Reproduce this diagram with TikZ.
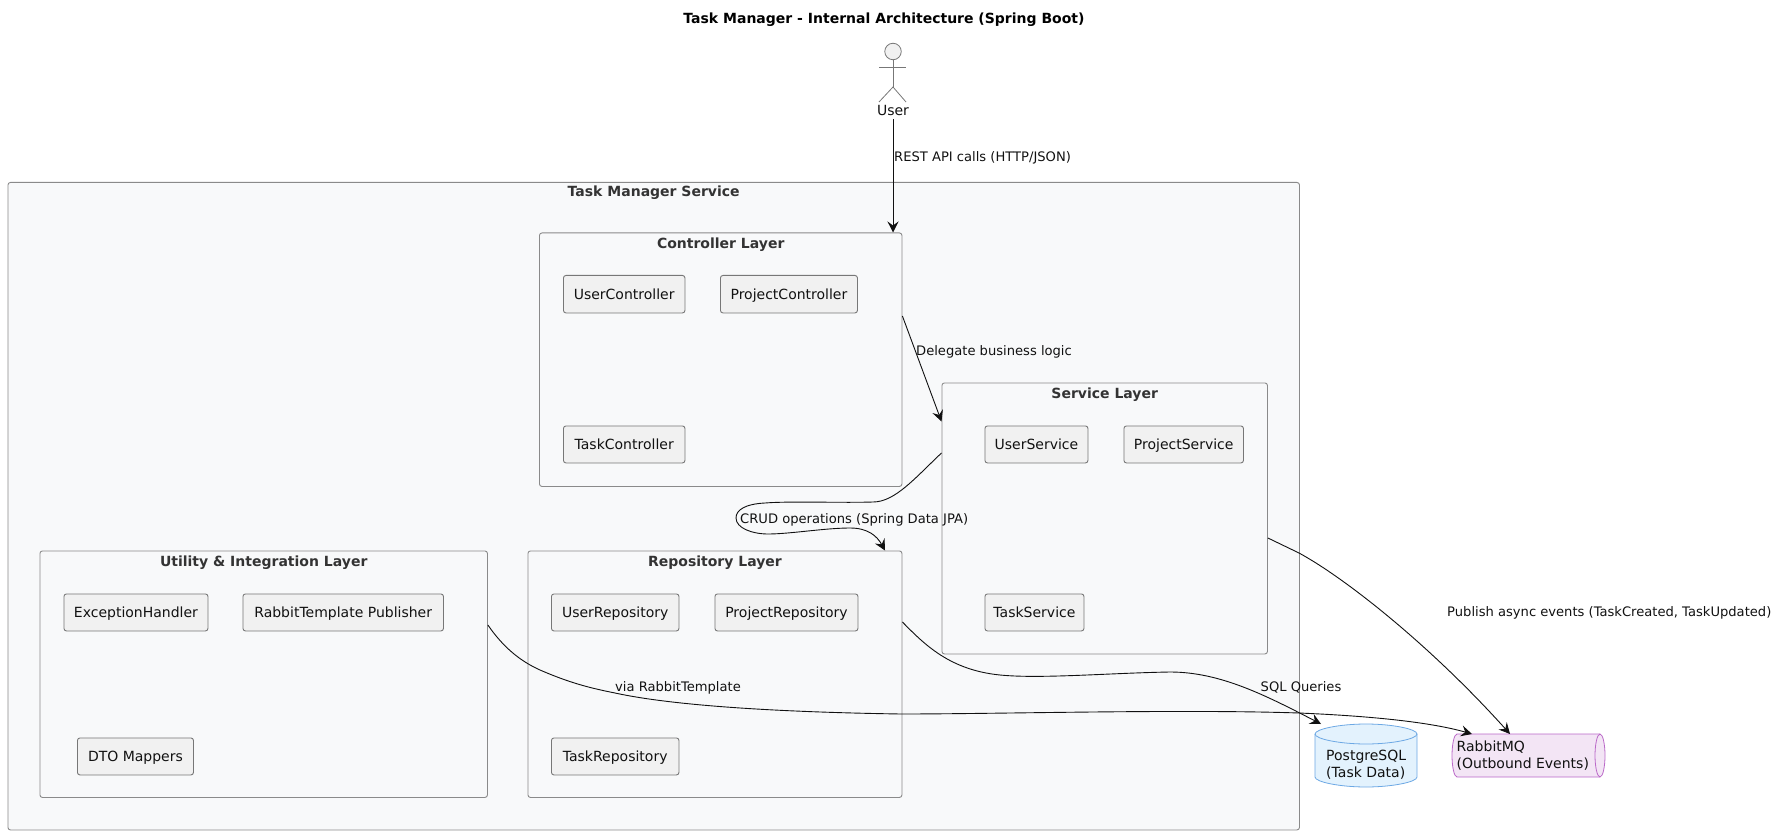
\documentclass[tikz,border=0pt]{standalone}
\usepackage{fontspec}
\setmainfont{DejaVu Sans}
\usetikzlibrary{arrows.meta}
\definecolor{clfill}{HTML}{F8F9FA}
\definecolor{clline}{HTML}{8A8A8A}
\definecolor{leaffill}{HTML}{F1F1F1}
\definecolor{leafline}{HTML}{777777}
\definecolor{txt}{HTML}{111111}
\definecolor{cltxt}{HTML}{333333}
\definecolor{dbfill}{HTML}{E3F2FD}
\definecolor{dbline}{HTML}{6CA8E4}
\definecolor{qfill}{HTML}{F3E5F5}
\definecolor{qline}{HTML}{BA68C8}
\tikzset{
  base/.style={font=\fontsize{14}{16.5}\selectfont,text=txt,inner sep=0pt},
  cluster/.style={draw=clline,fill=clfill,line width=.9pt,rounded corners=2.5pt,anchor=north west,inner sep=0pt},
  cltitle/.style={font=\fontsize{14}{16}\selectfont\bfseries,text=cltxt,inner sep=0pt},
  leafbox/.style={base,draw=leafline,fill=leaffill,line width=.9pt,rounded corners=2.5pt,anchor=north west,align=center,text height=10.5pt,text depth=.5pt},
  lab/.style={base,font=\fontsize{13.1}{15}\selectfont,anchor=west,text height=10pt,text depth=0pt},
  conn/.style={draw=txt,line width=.9pt,-{Stealth[length=11pt,width=11pt,inset=4pt]}},
  actorline/.style={draw=leafline,line width=.8pt},
}
\newcommand{\clusterbox}[5]{\node[cluster,minimum width=#3,minimum height=#4] (#1) at (#2) {};
  \node[cltitle,anchor=north] (#1t) at ([yshift=-#5]#1.north) {\vphantom{Ay}\csname cltext#1\endcsname};}
\newcommand{\leaf}[5]{\node[leafbox,minimum width=#3,minimum height=#4] (#1) at (#2) {#5};}
\expandafter\def\csname cltextouter\endcsname{Task Manager Service}
\expandafter\def\csname cltextctrl\endcsname{Controller Layer}
\expandafter\def\csname cltextsvc\endcsname{Service Layer}
\expandafter\def\csname cltextrepo\endcsname{Repository Layer}
\expandafter\def\csname cltextutil\endcsname{Utility \& Integration Layer}
\begin{document}
\begin{tikzpicture}[x=1pt,y=-1pt]
\useasboundingbox (0,0) rectangle (1780,834);
\node[font=\fontsize{14}{16}\selectfont\bfseries,text=black,inner sep=0pt,text height=10pt,text depth=0pt] (title) at (884,18.5) {Task Manager - Internal Architecture (Spring Boot)};
% actor
\node[circle,draw=leafline,fill=leaffill,line width=.8pt,minimum size=16.5pt,inner sep=0pt] (head) at (893,51.5) {};
\coordinate (hip) at (893,87);
\draw[actorline] (head.south) -- (hip);
\draw[actorline] (879,67) -- (906,67);
\draw[actorline] (879,102) -- (hip) -- (906,102);
\node[base,text height=10pt,text depth=0pt] (user) at (893,111) {User};
% clusters
\clusterbox{outer}{7.5,182}{1291.5}{647.5}{3.5pt}
\clusterbox{ctrl}{539,232.5}{362.5}{253.5}{5pt}
\clusterbox{svc}{941.5,382.5}{325.5}{271}{5pt}
\clusterbox{repo}{527.5,550.5}{374}{246.5}{5pt}
\clusterbox{util}{39.5,550.5}{447.5}{246.5}{5pt}
% leaves
\leaf{uc}{563,275}{121.5}{37.5}{UserController}
\leaf{pc}{720,275}{137}{37.5}{ProjectController}
\leaf{tc}{563,425.5}{121.5}{37}{TaskController}
\leaf{us}{984.5,425.5}{103}{37}{UserService}
\leaf{ps}{1123.5,425.5}{119.5}{37}{ProjectService}
\leaf{ts}{984.5,593.5}{99}{37}{TaskService}
\leaf{ur}{551,593.5}{127.5}{37}{UserRepository}
\leaf{pr}{714.5,593.5}{143}{37}{ProjectRepository}
\leaf{tr}{551,737.5}{127.5}{37}{TaskRepository}
\leaf{eh}{63.5,593.5}{144}{37}{ExceptionHandler}
\leaf{rt}{242.5,593.5}{200.5}{37}{RabbitTemplate Publisher}
\leaf{dm}{77,737.5}{116}{37}{DTO Mappers}
% database
\filldraw[fill=dbfill,draw=dbline,line width=.8pt] (1315,734) .. controls (1315,729) and (1340,724) .. (1366,724) .. controls (1392,724) and (1417,729) .. (1417,734) -- (1417,777) .. controls (1417,782) and (1392,787) .. (1366,787) .. controls (1340,787) and (1315,782) .. (1315,777) -- cycle;
\draw[draw=dbline,line width=.8pt] (1315,734) .. controls (1315,739) and (1340,744) .. (1366,744) .. controls (1392,744) and (1417,739) .. (1417,734);
\node[base,align=left,anchor=north west] (pg) at (1326,750) {PostgreSQL\\(Task Data)};
% queue
\filldraw[fill=qfill,draw=qline,line width=.8pt] (1457,734) -- (1600,734) .. controls (1603,734) and (1605,745) .. (1605,755.5) .. controls (1605,766) and (1603,777) .. (1600,777) -- (1457,777) .. controls (1454,777) and (1452,766) .. (1452,755.5) .. controls (1452,745) and (1454,734) .. (1457,734) -- cycle;
\draw[draw=qline,line width=.8pt] (1600,734) .. controls (1597,734) and (1595,745) .. (1595,755.5) .. controls (1595,766) and (1597,777) .. (1600,777);
\node[base,align=left,anchor=north west] (mq) at (1456.5,741) {RabbitMQ\\(Outbound Events)};
% connectors
\coordinate (pgtip) at (1321,724);
\coordinate (mqa) at (1472,734);
\coordinate (mqb) at (1510,734);
\draw[conn,shorten <=3pt] (user.south) -- (user.south |- ctrl.north);
\draw[conn] (ctrl.east |- 0,316) -- (svc.west |- 0,421.5);
\draw[conn] (svc.west |- 0,453) .. controls (915,478) and (895,502) .. (873,502)
  .. controls (840,503) and (790,501) .. (765,503)
  .. controls (745,504) and (736,510) .. (736,518)
  .. controls (736,528) and (752,534) .. (768,534)
  .. controls (790,534) and (825,528) .. (850,528)
  .. controls (868,528) and (877,536) .. (885,550.5);
\draw[conn] (svc.east |- 0,538) -- (1299,553) .. controls (1345,578) and (1430,645) .. (mqb);
\draw[conn] (repo.east |- 0,622) .. controls (925,645) and (950,670) .. (1000,675)
  .. controls (1040,679) and (1110,673) .. (1170,672)
  .. controls (1220,672) and (1265,695) .. (pgtip);
\draw[conn] (util.east |- 0,625) .. controls (503,647) and (520,661) .. (540,670)
  .. controls (570,683) and (590,688) .. (615,693)
  .. controls (670,705) and (770,712) .. (901,714)
  .. controls (1000,714) and (1180,709) .. (1299,713)
  .. controls (1370,716) and (1430,722) .. (mqa);
% labels
\node[lab] (l1) at (894,157) {REST API calls (HTTP/JSON)};
\node[lab] (l2) at (916,350.5) {Delegate business logic};
\node[lab] (l3) at (740,518) {CRUD operations (Spring Data JPA)};
\node[lab] (l4) at (615,686.5) {via RabbitTemplate};
\node[lab] (l5) at (1260.5,686.5) {SQL Queries};
\node[lab] (l6) at (1447,611) {Publish async events (TaskCreated, TaskUpdated)};
\end{tikzpicture}
\end{document}
